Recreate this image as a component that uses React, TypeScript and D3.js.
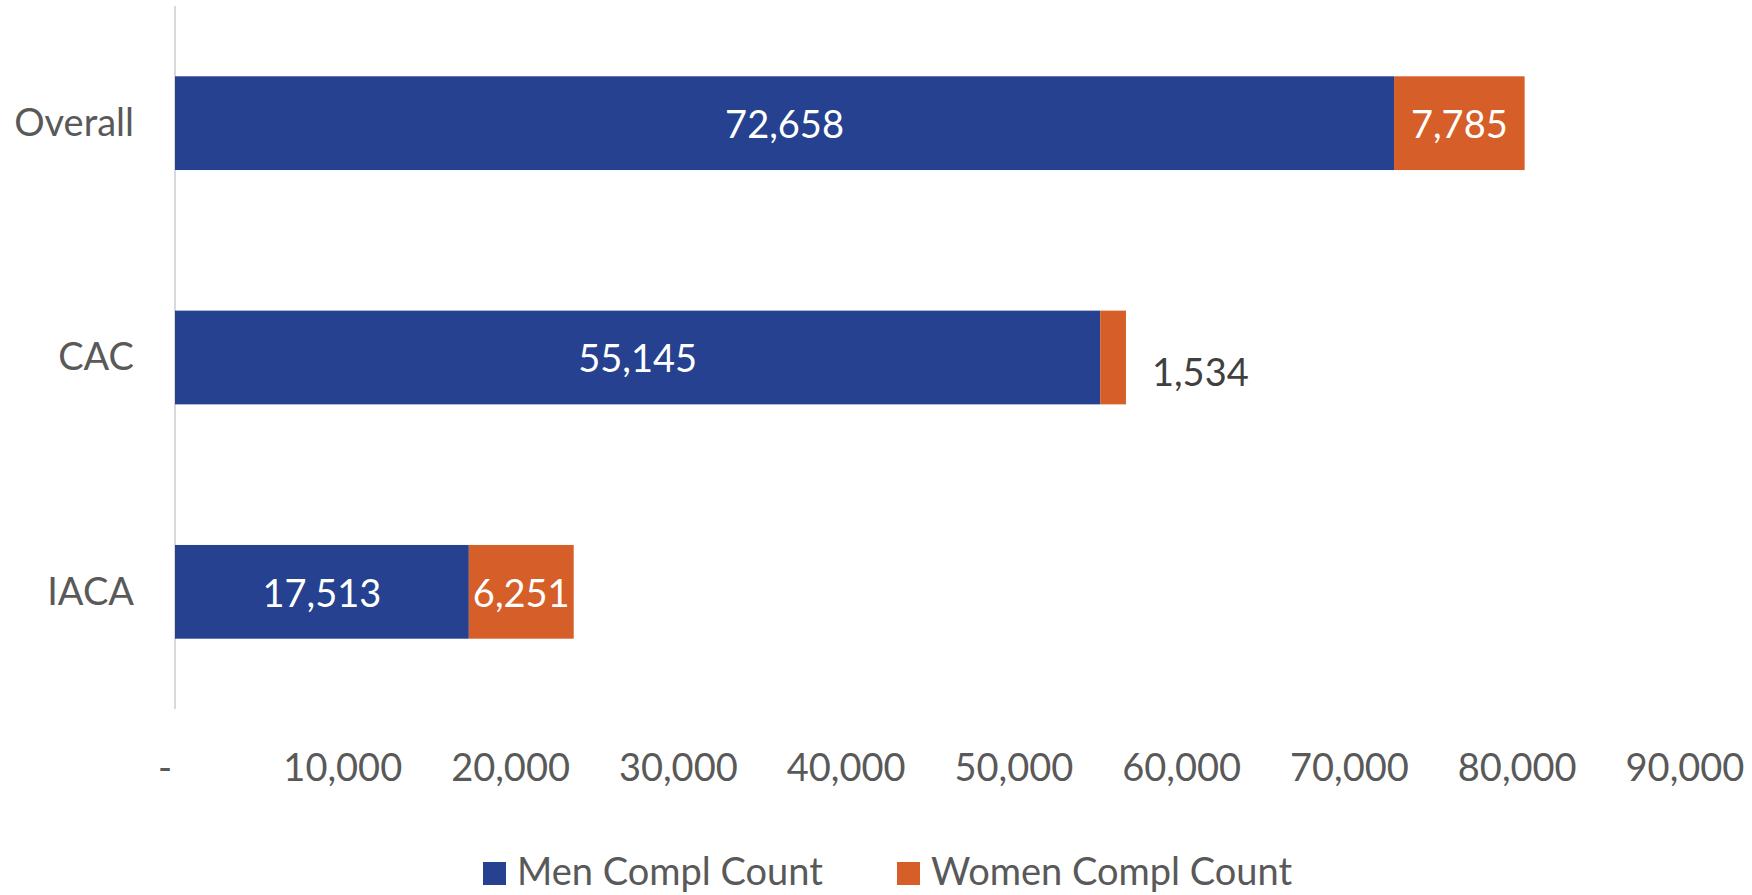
import * as d3 from "d3";

const categories = ["Overall", "CAC", "IACA"];
const menCounts = [72658, 55145, 17513];
const womenCounts = [7785, 1534, 6251];
const seriesNames = ["Men Compl Count", "Women Compl Count"];
const xTicks = [0, 10000, 20000, 30000, 40000, 50000, 60000, 70000, 80000, 90000];

const W = 1752;
const H = 895;
const colors = ["#25418F", "#D65E28"];
const font = "Lato, 'Open Sans', sans-serif";
const fs = 38;

export default function App() {
  const x = d3.scaleLinear().domain([0, 90000]).range([175, 1685]);
  const y = d3.scaleBand<string>().domain(categories).range([6, 709]).paddingInner(0.6).paddingOuter(0.3);
  const fmt = d3.format(",");
  const bh = y.bandwidth();

  return (
    <svg width={W} height={H} style={{ position: "absolute", left: 0, top: 0 }} fontFamily={font}>
      <rect width={W} height={H} fill="#fff" />
      {/* category axis line */}
      <line x1={x(0)} x2={x(0)} y1={6} y2={709} stroke="#D9D9D9" strokeWidth={2} />

      {categories.map((c, i) => {
        const y0 = y(c)!;
        const m = menCounts[i];
        const w = womenCounts[i];
        const wWidth = x(m + w) - x(m);
        const inside = wWidth > 60;
        return (
          <g key={c}>
            <rect x={x(0)} y={y0} width={x(m) - x(0)} height={bh} fill={colors[0]} />
            <rect x={x(m)} y={y0} width={wWidth} height={bh} fill={colors[1]} />
            <text x={(x(0) + x(m)) / 2} y={y0 + bh / 2 + 1} dy="0.36em" textAnchor="middle" fill="#fff" fontSize={fs}>
              {fmt(m)}
            </text>
            {inside ? (
              <text x={(x(m) + x(m + w)) / 2} y={y0 + bh / 2 + 1} dy="0.36em" textAnchor="middle" fill="#fff" fontSize={fs}>
                {fmt(w)}
              </text>
            ) : (
              <text x={x(m + w) + 26} y={y0 + bh / 2 + 15} dy="0.36em" textAnchor="start" fill="#404040" fontSize={fs}>
                {fmt(w)}
              </text>
            )}
            <text x={134} y={y0 + bh / 2 - 1} dy="0.36em" textAnchor="end" fill="#595959" fontSize={fs}>
              {c}
            </text>
          </g>
        );
      })}

      {xTicks.map((t) => (
        <text
          key={t}
          x={t === 0 ? x(t) - 10 : x(t)}
          y={767}
          dy="0.36em"
          textAnchor="middle"
          fill="#595959"
          fontSize={fs}
        >
          {t === 0 ? "-" : fmt(t)}
        </text>
      ))}

      {seriesNames.map((s, i) => {
        const lx = i === 0 ? 483 : 897;
        return (
          <g key={s}>
            <rect x={lx} y={862} width={23} height={23} fill={colors[i]} />
            <text x={lx + 34} y={871} dy="0.36em" fill="#595959" fontSize={fs}>
              {s}
            </text>
          </g>
        );
      })}
    </svg>
  );
}
